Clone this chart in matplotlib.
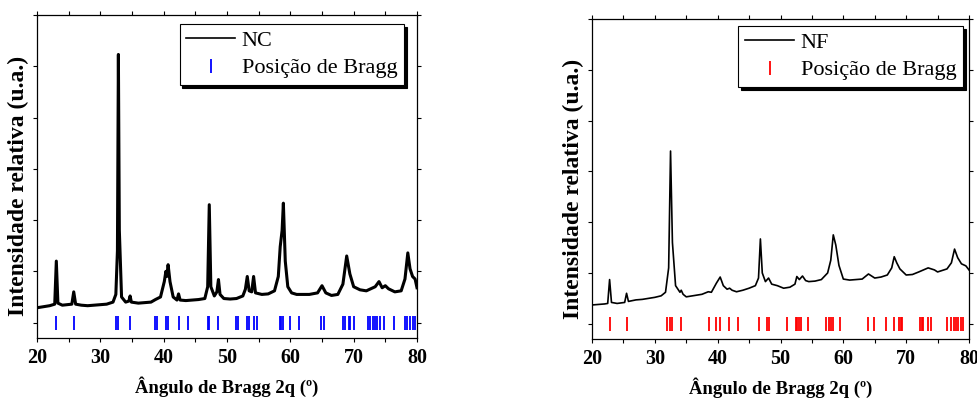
import matplotlib
matplotlib.use("Agg")
import matplotlib.pyplot as plt
from matplotlib.ticker import MultipleLocator

plt.rcParams['font.family'] = ['Liberation Serif', 'DejaVu Serif']

# NC pattern
nc_x = [20, 21, 22, 22.8, 23.05, 23.3, 24, 25.5, 25.8, 26.1, 27, 28, 29, 30, 31, 32, 32.45,
        32.7, 32.85, 33.0, 33.35, 34.0, 34.5, 34.7, 34.9, 36, 37, 38, 38.7, 39.5, 40.1, 40.35,
        40.5, 40.7, 41.0, 41.5, 42.1, 42.35, 42.6, 43.5, 44.5, 45.5, 46.5, 46.95, 47.2, 47.45,
        48.0, 48.4, 48.65, 48.9, 49.5, 50.5, 51.5, 52.5, 52.9, 53.2, 53.5, 53.9, 54.2, 54.5,
        55.5, 56.5, 57.5, 58.1, 58.4, 58.7, 58.9, 59.2, 59.6, 60.2, 61, 62, 63, 64.3, 65.0,
        65.6, 66.5, 67.5, 68.3, 68.9, 69.4, 70, 71, 72, 73.4, 74.0, 74.5, 75.0, 75.5, 76.5,
        77.5, 78.1, 78.55, 78.9, 79.3, 79.7, 80]
nc_y = [0.29, 0.31, 0.33, 0.36, 1.20, 0.38, 0.34, 0.36, 0.60, 0.36, 0.34, 0.33, 0.34, 0.35, 0.36, 0.40, 0.55,
        1.40, 5.23, 1.80, 0.50, 0.40, 0.42, 0.52, 0.40, 0.38, 0.39, 0.40, 0.45, 0.50, 0.80, 1.00,
        0.90, 1.13, 0.80, 0.50, 0.44, 0.56, 0.44, 0.43, 0.44, 0.45, 0.47, 0.70, 2.30, 0.70,
        0.52, 0.60, 0.84, 0.55, 0.47, 0.46, 0.47, 0.52, 0.65, 0.90, 0.62, 0.60, 0.90, 0.58,
        0.55, 0.56, 0.62, 0.90, 1.48, 1.80, 2.33, 1.20, 0.70, 0.58, 0.55, 0.55, 0.55, 0.58, 0.72,
        0.58, 0.53, 0.55, 0.75, 1.30, 0.95, 0.70, 0.64, 0.62, 0.70, 0.80, 0.68, 0.72, 0.66, 0.60,
        0.62, 0.85, 1.36, 1.05, 0.90, 0.85, 0.68]

nc_bragg = [23.06, 25.8, 32.5, 32.8, 34.65, 38.6, 38.9, 40.35, 40.7, 42.4, 43.9, 47.05, 47.2,
            48.6, 51.5, 51.8, 53.1, 53.4, 54.3, 54.8, 58.3, 58.6, 58.9, 60.0, 61.4, 64.8, 65.3,
            68.3, 68.7, 69.2, 69.5, 70.0, 72.3, 72.6, 73.0, 73.3, 73.7, 74.1, 74.8, 76.4, 78.1,
            78.5, 78.9, 79.3, 79.7]

# NF pattern
nf_x = [20, 21, 22, 22.5, 22.8, 23.1, 24, 25.2, 25.5, 25.8, 27, 28, 29, 30, 31, 31.7, 32.2,
        32.5, 32.8, 33.3, 34.0, 34.2, 34.5, 35, 36, 37.5, 38.5, 39.0, 39.8, 40.4, 40.9, 41.5,
        41.9, 42.3, 43, 44, 45, 46, 46.5, 46.8, 47.1, 47.6, 48.1, 48.6, 49.5, 50.5, 51.5, 52.3,
        52.6, 53.0, 53.5, 54.0, 54.5, 55.5, 56.5, 57.5, 58.0, 58.4, 58.8, 59.3, 60.0, 61, 62,
        63, 64.0, 64.5, 65, 66, 67, 67.7, 68.1, 68.5, 69.0, 70, 71, 72, 73.5, 74.5, 75, 76.5,
        77.2, 77.7, 78.2, 78.8, 79.5, 80]
nf_y = [0.37, 0.38, 0.39, 0.40, 0.87, 0.42, 0.40, 0.42, 0.60, 0.44, 0.47, 0.48, 0.50, 0.52, 0.55, 0.62, 1.10,
        3.40, 1.60, 0.75, 0.62, 0.66, 0.58, 0.53, 0.55, 0.58, 0.63, 0.62, 0.80, 0.92, 0.75, 0.68,
        0.70, 0.66, 0.63, 0.66, 0.70, 0.75, 0.90, 1.67, 1.00, 0.83, 0.90, 0.78, 0.75, 0.70, 0.72, 0.78,
        0.93, 0.87, 0.94, 0.85, 0.83, 0.84, 0.87, 1.00, 1.25, 1.75, 1.55, 1.15, 0.88, 0.86, 0.87,
        0.88, 0.98, 0.94, 0.90, 0.92, 0.96, 1.10, 1.32, 1.20, 1.08, 0.96, 0.97, 1.02, 1.10, 1.06,
        1.02, 1.08, 1.20, 1.47, 1.30, 1.18, 1.14, 1.06]

nf_bragg = [22.9, 25.5, 32.0, 32.4, 32.8, 34.1, 38.6, 39.8, 40.3, 41.8, 43.3, 46.6, 47.9, 48.1,
            51.0, 52.4, 52.7, 53.0, 53.2, 54.4, 57.3, 57.7, 58.0, 58.4, 59.4, 64.0, 64.9, 66.8,
            68.1, 68.8, 69.1, 69.4, 72.2, 72.5, 72.7, 73.4, 73.9, 76.5, 77.2, 77.6, 77.9, 78.3,
            78.8, 79.1]

fig = plt.figure(figsize=(9.78, 3.98), dpi=100)
W, H = 978, 398
ax1 = fig.add_axes([37 / W, 1 - 338 / H, 380 / W, 323 / H])
ax2 = fig.add_axes([592 / W, 1 - 339 / H, 377 / W, 320 / H])


def style(ax, ylab_x):
    ax.set_xlim(20, 80)
    ax.set_ylim(-0.3, 6.0)
    ax.xaxis.set_major_locator(MultipleLocator(10))
    ax.xaxis.set_minor_locator(MultipleLocator(5))
    ax.yaxis.set_major_locator(MultipleLocator(1))
    ax.tick_params(which='both', direction='out', length=3, width=0.8,
                   top=True, right=True, labelleft=False)
    ax.tick_params(axis='x', labelsize=14.5, pad=4)
    for lab in ax.get_xticklabels():
        lab.set_fontweight('bold')
    for s in ax.spines.values():
        s.set_linewidth(0.9)
    ax.set_xlabel('Ângulo de Bragg 2q (º)', fontsize=13.5, fontweight='bold', labelpad=6)
    ax.set_ylabel('Intensidade relativa (u.a.)', fontsize=17, fontweight='bold')
    ax.yaxis.set_label_coords(ylab_x, 0.47)


ax1.plot(nc_x, nc_y, color='black', lw=2.2, label='NC')
ax1.plot(nc_bragg, [0] * len(nc_bragg), ls='none', marker='|', ms=10, mew=1.3,
         color='blue', label='Posição de Bragg')
style(ax1, -0.02)

ax2.plot(nf_x, nf_y, color='black', lw=1.2, label='NF')
ax2.plot(nf_bragg, [0] * len(nf_bragg), ls='none', marker='|', ms=10, mew=1.3,
         color='red', label='Posição de Bragg')
style(ax2, -0.02)

for ax, anchor in ((ax1, (0.966, 0.972)), (ax2, (0.984, 0.978))):
    leg = ax.legend(loc='upper right', bbox_to_anchor=anchor, fontsize=16, frameon=True,
                    fancybox=False, shadow={'color': 'black', 'alpha': 1},
                    handlelength=2.2, handletextpad=0.3, borderpad=0.3,
                    labelspacing=0.3, borderaxespad=0)
    leg.get_frame().set_edgecolor('black')
    leg.get_frame().set_linewidth(0.8)
    leg.get_frame().set_alpha(1)
    leg.get_lines()[0].set_linewidth(1.2)

fig.savefig('out.png', dpi=100)
